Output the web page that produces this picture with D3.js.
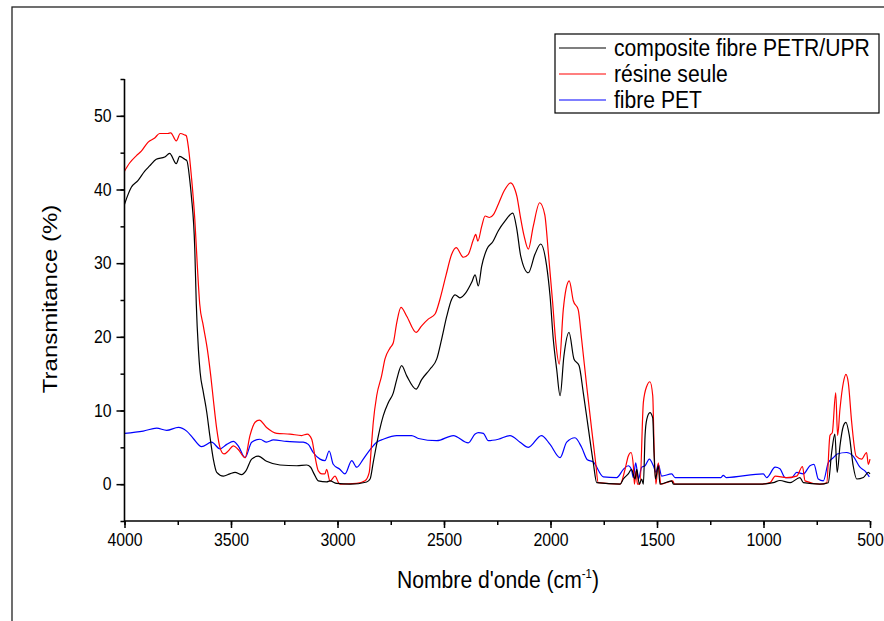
<!DOCTYPE html>
<html>
<head>
<meta charset="utf-8">
<script src="https://cdnjs.cloudflare.com/ajax/libs/d3/7.8.5/d3.min.js"></script>
<style>
  body { margin: 0; background: #fff; }
  text { font-family: "Liberation Sans", Arial, sans-serif; }
</style>
</head>
<body>
<div id="chart"></div>
<script>
// composite fibre PETR/UPR
var compositeWn = [4000,3968,3937,3905,3882,3851,3811,3788,3757,3741,3717,3707,3694,3686,3670,3663,3653,3645,3630,3614,3599,3583,3567,3536,3505,3481,3450,3430,3403,3372,3333,3270,3191,3145,3126,3110,3090,3051,3035,3004,2941,2863,2847,2832,2808,2785,2761,2738,2722,2699,2675,2631,2605,2566,2534,2511,2487,2464,2448,2425,2397,2370,2354,2339,2323,2299,2271,2245,2214,2177,2158,2140,2104,2073,2046,2018,2002,1987,1971,1955,1937,1913,1890,1866,1846,1822,1799,1783,1673,1658,1635,1620,1603,1595,1583,1572,1564,1556,1548,1533,1520,1514,1507,1494,1486,1431,1423,1016,954,923,875,829,813,735,696,680,665,654,641,625,613,597,579,562,531,508,500];
var compositeT  = [38.0,40.3,41.2,42.5,43.2,44.1,44.4,44.9,43.5,44.5,44.1,43.9,41.4,39.1,31.9,24.5,18.3,15.2,12.5,9.8,6.5,3.4,1.6,1.1,1.4,1.6,1.3,1.8,3.4,3.8,3.1,2.6,2.5,2.6,2.3,1.4,0.45,0.3,0.45,0.1,0,0.3,0.7,3.0,6.6,9.3,11.1,12.4,14.2,16.1,14.7,12.9,14.2,15.6,17.0,19.7,22.8,25.1,25.7,25.3,26.0,27.4,28.4,26.9,29.6,31.9,32.9,34.4,35.7,36.8,34.6,31.0,28.7,31.2,32.6,29.6,25.5,19.7,15.6,12.0,17.4,20.6,17.0,16.1,12.4,7.5,2.9,0.2,0,0.7,1.4,2.0,0.7,2.0,0,0.7,0,6.6,8.8,9.7,9.0,4.3,0.7,2.5,0,0.45,0,0,0.2,0.5,0.2,0.9,0.2,0,0.2,4.3,6.8,1.6,5.2,7.9,8.4,6.6,2.5,0.7,0.9,1.6,1.4];

// résine seule
var resineWn = [4000,3976,3944,3921,3890,3858,3835,3796,3783,3757,3738,3717,3710,3699,3686,3670,3658,3647,3630,3611,3595,3583,3567,3552,3533,3513,3489,3466,3434,3411,3387,3367,3333,3285,3223,3168,3142,3121,3106,3090,3074,3059,3051,3035,3012,2993,2988,2910,2871,2851,2840,2832,2816,2793,2777,2753,2738,2722,2702,2675,2631,2605,2574,2542,2519,2491,2464,2443,2409,2386,2362,2351,2341,2323,2307,2287,2268,2245,2218,2187,2167,2158,2142,2124,2104,2081,2051,2027,2010,1990,1975,1959,1940,1927,1912,1893,1870,1854,1830,1807,1788,1776,1673,1650,1635,1622,1611,1606,1598,1592,1580,1564,1548,1533,1520,1513,1505,1494,1482,1426,1418,1016,969,945,891,844,817,805,735,703,688,677,661,652,641,625,613,602,586,565,539,516,508,500];
var resineT  = [42.5,43.6,44.6,45.2,46.4,47.0,47.6,47.6,47.7,46.6,47.6,47.4,47.3,45.5,41.8,36.0,29.6,24.5,21.5,18.3,14.7,11.5,7.5,5.0,4.1,4.5,5.2,4.7,3.6,6.6,8.4,8.7,7.7,6.9,6.8,6.6,6.8,6.1,3.8,1.8,1.4,1.4,2.0,0.4,1.1,0.1,0,0.1,0.45,1.6,5.5,8.4,12.0,14.7,17.0,18.5,19.2,21.9,24.0,22.8,20.6,21.5,22.4,23.1,25.1,28.3,31.2,32.1,30.8,31.2,33.2,33.9,33.0,35.0,36.4,36.2,36.6,38.0,39.8,40.9,40.0,39.1,36.4,33.7,31.9,35.0,38.2,36.6,31.4,24.7,19.2,16.3,23.7,26.5,27.6,24.9,23.7,19.7,13.3,7.5,2.9,0.2,0,2.0,3.8,4.3,2.5,0,1.8,0,0,11.1,13.3,13.9,12.0,4.3,0,2.9,0,0.45,0,0,0.2,1.1,0.9,1.1,2.4,0.45,0,0.2,6.6,7.0,12.4,6.6,10.2,13.8,14.9,13.8,8.4,3.8,3.4,4.3,2.7,3.4];

// fibre PET
var petWn = [4000,3912,3849,3802,3747,3708,3677,3638,3591,3552,3520,3489,3466,3434,3403,3364,3333,3301,3239,3161,3137,3114,3082,3059,3039,3020,2988,2965,2933,2910,2879,2847,2816,2785,2722,2652,2620,2534,2456,2386,2354,2339,2315,2292,2245,2190,2143,2104,2043,2002,1955,1924,1885,1854,1827,1799,1752,1689,1658,1635,1620,1611,1600,1587,1572,1556,1536,1517,1505,1494,1478,1431,1415,1200,1189,1175,1001,985,945,923,899,868,844,813,782,763,743,719,696,672,654,610,579,547,524,503];
var petT  = [6.9,7.2,7.6,7.3,7.7,7.2,6.2,5.1,5.7,4.8,5.4,5.8,5.2,3.6,5.7,6.1,5.7,6.0,5.8,5.7,5.4,4.3,3.4,3.2,4.5,2.7,2.0,1.4,3.2,2.3,3.4,4.7,5.7,6.1,6.6,6.6,6.2,5.9,6.6,5.6,6.8,7.0,6.9,5.9,6.1,6.6,5.7,5.0,6.6,5.4,3.6,5.7,6.3,5.0,3.3,3.0,1.0,0.9,2.0,2.5,2.0,0.9,2.9,0.7,2.3,2.5,3.4,2.5,1.6,2.7,1.1,1.4,0.9,0.9,1.2,0.9,1.4,0.9,2.3,2.1,0.9,0.9,1.6,1.4,2.5,2.7,0.7,0.45,2.9,3.6,4.1,4.3,3.8,2.3,1.8,1.0];

var seriesNames = ["composite fibre PETR/UPR", "résine seule", "fibre PET"];
var seriesColors = ["#000000", "#ff0000", "#0000ff"];

var xTicks = [4000, 3500, 3000, 2500, 2000, 1500, 1000, 500];
var yTicks = [0, 10, 20, 30, 40, 50];

var width = 884, height = 621;
var squeeze = 0.88;   // the picture's text is narrower than it is tall

var x = d3.scaleLinear().domain([4000, 500]).range([124.5, 870]);
var y = d3.scaleLinear().domain([-5, 55]).range([521, 79]);

var svg = d3.select("#chart").append("svg")
    .attr("width", width)
    .attr("height", height);

// outer frame
svg.append("rect")
    .attr("x", 12).attr("y", 7)
    .attr("width", 900).attr("height", 700)
    .attr("fill", "none")
    .attr("stroke", "#222")
    .attr("stroke-width", 1.3);

function zip(wn, t) {
  return wn.map(function(w, i) { return [w, t[i]]; });
}
var series = [zip(compositeWn, compositeT), zip(resineWn, resineT), zip(petWn, petT)];

var line = d3.line()
    .curve(d3.curveMonotoneX)
    .x(function(d) { return x(d[0]); })
    .y(function(d) { return y(d[1]); });

// blue under, black on top
[2, 1, 0].forEach(function(i) {
  svg.append("path")
      .datum(series[i])
      .attr("fill", "none")
      .attr("stroke", seriesColors[i])
      .attr("stroke-width", 1.2)
      .attr("d", line);
});

// x axis
var xAxisG = svg.append("g").attr("transform", "translate(0," + y(-5) + ")");
xAxisG.append("g")
    .call(d3.axisBottom(x).tickValues(d3.range(4000, 499, -250)).tickSize(4).tickFormat(""));
xAxisG.append("g")
    .call(d3.axisBottom(x).tickValues(xTicks).tickSize(7).tickPadding(5).tickFormat(d3.format("d")));
xAxisG.selectAll("text")
    .attr("font-size", 18).attr("fill", "#000")
    .attr("transform", "scale(" + squeeze + ",1)");

// y axis
var yAxisG = svg.append("g").attr("transform", "translate(" + x(4000) + ",0)");
yAxisG.append("g")
    .call(d3.axisLeft(y).tickValues(d3.range(-5, 56, 5)).tickSize(4).tickFormat(""));
yAxisG.append("g")
    .call(d3.axisLeft(y).tickValues(yTicks).tickSize(8).tickPadding(5).tickFormat(d3.format("d")));
yAxisG.selectAll("text")
    .attr("font-size", 18).attr("fill", "#000")
    .attr("x", -13 / squeeze)
    .attr("transform", "scale(" + squeeze + ",1)");

svg.selectAll(".tick line").attr("stroke-width", 1.5);
svg.selectAll(".domain").remove();

// plain axis lines
svg.append("line").attr("x1", x(4000)).attr("x2", x(500)).attr("y1", y(-5)).attr("y2", y(-5))
    .attr("stroke", "#000").attr("stroke-width", 1.6);
svg.append("line").attr("x1", x(4000)).attr("x2", x(4000)).attr("y1", y(-5)).attr("y2", y(55))
    .attr("stroke", "#000").attr("stroke-width", 1.6);

// axis titles
var xTitle = svg.append("text")
    .attr("transform", "translate(498,588) scale(" + squeeze + ",1)")
    .attr("text-anchor", "middle")
    .attr("font-size", 24);
xTitle.append("tspan").text("Nombre d'onde (cm");
xTitle.append("tspan").attr("dy", -10).attr("font-size", 13).text("-1");
xTitle.append("tspan").attr("dy", 10).text(")");

svg.append("text")
    .attr("transform", "translate(57,299) scale(" + squeeze + ",1) rotate(-90)")
    .attr("text-anchor", "middle")
    .attr("font-size", 24)
    .text("Transmitance (%)");

// legend
var legend = svg.append("g");
legend.append("rect")
    .attr("x", 555).attr("y", 34)
    .attr("width", 324).attr("height", 79)
    .attr("fill", "#fff")
    .attr("stroke", "#000")
    .attr("stroke-width", 1.2);
seriesNames.forEach(function(name, i) {
  var ly = 48 + i * 26;
  legend.append("line")
      .attr("x1", 559).attr("x2", 606)
      .attr("y1", ly).attr("y2", ly)
      .attr("stroke", seriesColors[i])
      .attr("stroke-width", 1.2);
  legend.append("text")
      .attr("transform", "translate(614," + (ly + 8) + ") scale(" + squeeze + ",1)")
      .attr("font-size", 24)
      .text(name);
});
</script>
</body>
</html>
